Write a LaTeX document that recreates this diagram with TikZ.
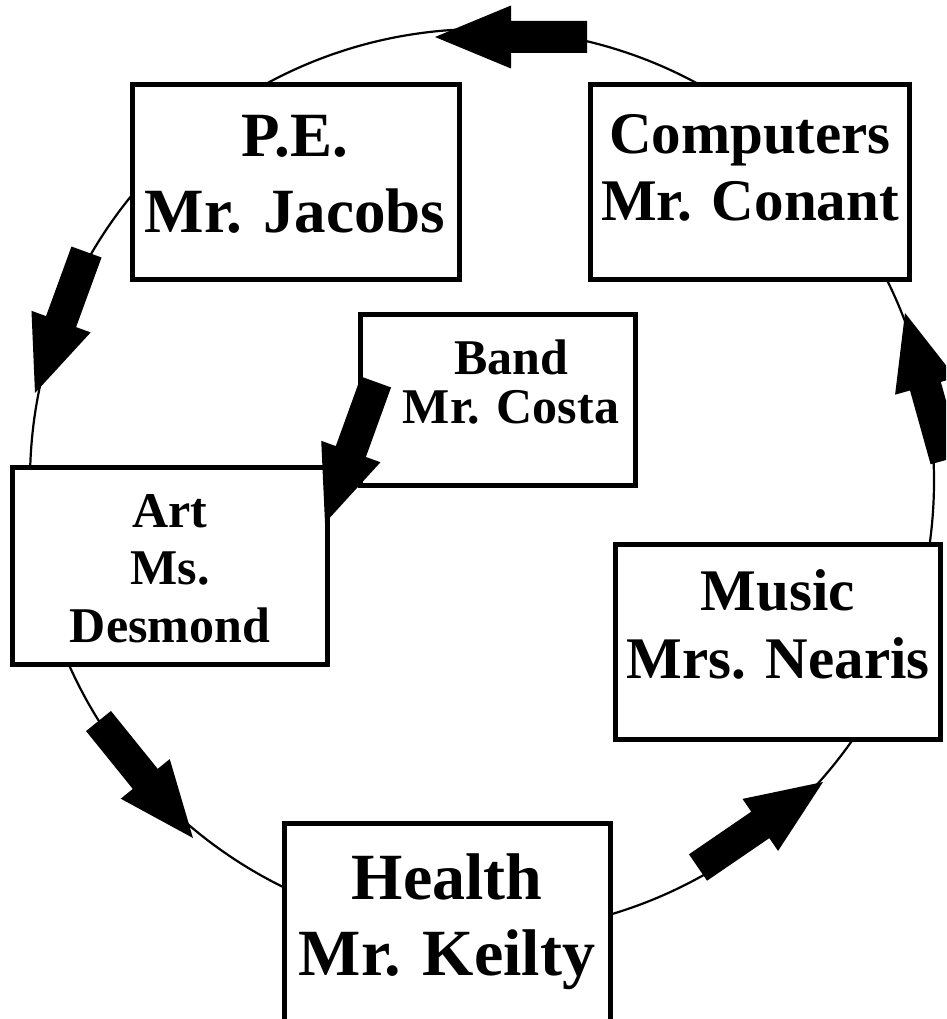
\documentclass[tikz,border=0pt]{standalone}
\usepackage{fontspec}
\setmainfont{Liberation Serif}
\usetikzlibrary{calc}
\tikzset{
  box/.style={draw, line width=5.5pt, fill=white, inner sep=0pt},
  lbl/.style={align=center, anchor=base, inner sep=0pt},
  ring/.style={line width=2.2pt},
  blk/.style={fill=black, draw=none},
}
\newcommand\blockarrow[2]{%
  \coordinate (#1h) at ($(#2)!76pt!(#1)$);
  \fill[blk] ($(#1)!16pt!90:(#2)$) -- ($(#1h)!16pt!90:(#2)$) -- ($(#1h)!31.5pt!90:(#2)$)
    -- (#2) -- ($(#1h)!31.5pt!-90:(#2)$) -- ($(#1h)!16pt!-90:(#2)$)
    -- ($(#1)!16pt!-90:(#2)$) -- cycle;
}
\begin{document}
\begin{tikzpicture}[x=1pt, y=-1pt]
\useasboundingbox (0,0) rectangle (946,1019);
\clip (0,0) rectangle (946,1019);
\fill[white] (0,0) rectangle (946,1019);
% ring
\coordinate (c) at (482,481);
\draw[ring] (c) circle[radius=452];
% boxes
\node[box, minimum width=327pt, minimum height=195pt] (pe) at (296,182) {};
\node[box, minimum width=319pt, minimum height=195pt] (comp) at (750,182) {};
\node[box, minimum width=275pt, minimum height=171pt] (band) at (498,400) {};
\node[box, minimum width=315pt, minimum height=197pt] (art) at (170,566) {};
\node[box, minimum width=325pt, minimum height=195pt] (music) at (778,642) {};
\node[box, minimum width=326pt, minimum height=202pt] (health) at (447.5,924.5) {};
% labels (anchor base = baseline of last line)
\node[lbl, font=\fontsize{63}{76}\selectfont\bfseries] (pet) at (295,232) {P.E.\\Mr. Jacobs};
\node[lbl, font=\fontsize{59}{67}\selectfont\bfseries] (compt) at (750,220) {Computers\\Mr. Conant};
\node[lbl, font=\fontsize{50}{49}\selectfont\bfseries] (bandt) at (511,423) {Band\\Mr. Costa};
\node[lbl, font=\fontsize{50}{57.5}\selectfont\bfseries] (artt) at (170,642) {Art\\Ms.\\Desmond};
\node[lbl, font=\fontsize{59}{68}\selectfont\bfseries] (musict) at (778,678) {Music\\Mrs. Nearis};
\node[lbl, font=\fontsize{66}{76}\selectfont\bfseries] (healtht) at (447,975) {Health\\Mr. Keilty};
% arrows
\coordinate (a1t) at (587,37);    \coordinate (a1p) at (435,37);
\coordinate (a2t) at (86.5,252);  \coordinate (a2p) at (35,393);
\coordinate (a3t) at (376,382);   \coordinate (a3p) at (325,523);
\coordinate (a4t) at (98.5,721);  \coordinate (a4p) at (193,838);
\coordinate (a5t) at (698,867.5); \coordinate (a5p) at (823,782);
\coordinate (a6t) at (946,460);   \coordinate (a6p) at (905,313);
\blockarrow{a1t}{a1p}
\blockarrow{a2t}{a2p}
\blockarrow{a3t}{a3p}
\blockarrow{a4t}{a4p}
\blockarrow{a5t}{a5p}
\blockarrow{a6t}{a6p}
\end{tikzpicture}
\end{document}
